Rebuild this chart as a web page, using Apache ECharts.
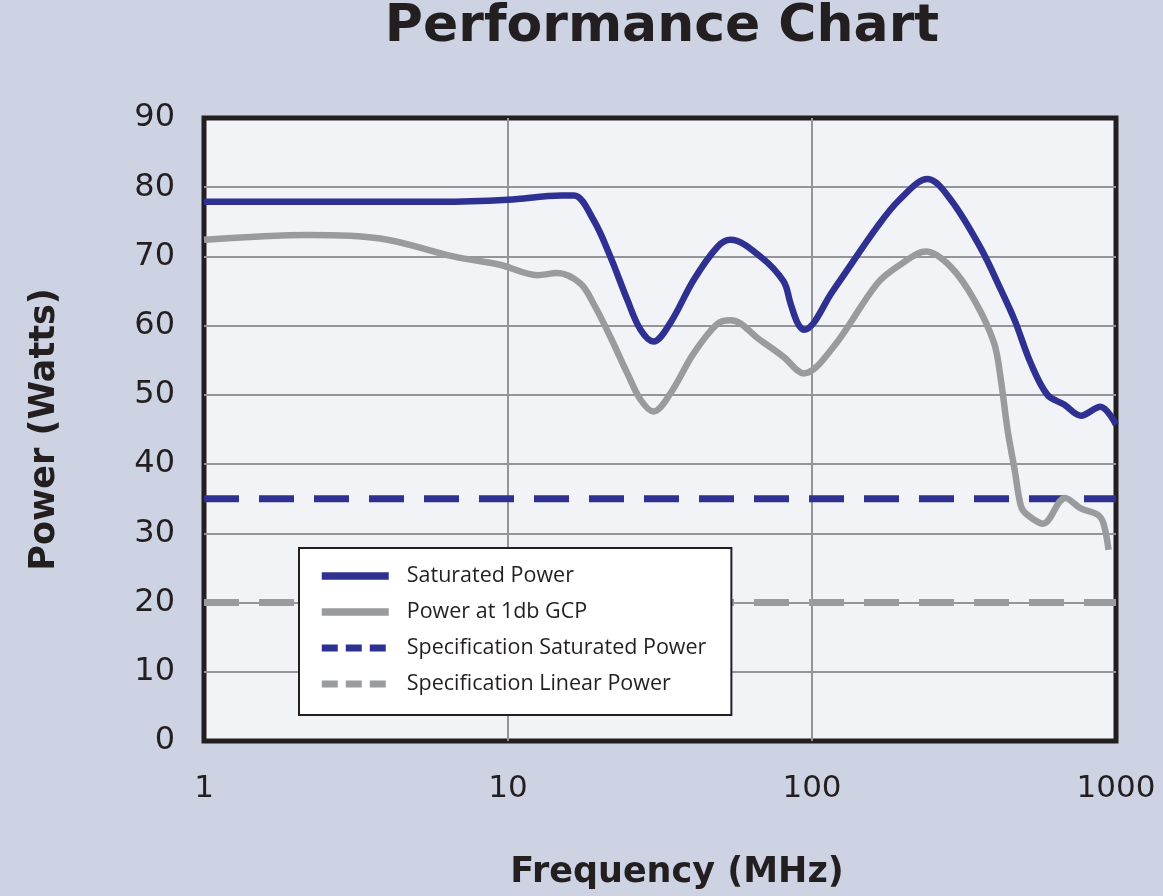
<!DOCTYPE html>
<html>
<head>
<meta charset="utf-8">
<script src="https://cdn.jsdelivr.net/npm/echarts@6/dist/echarts.min.js"></script>
<style>
html,body{margin:0;padding:0;background:#cdd3e3;}
#chart{width:1163px;height:896px;}
</style>
</head>
<body>
<div id="chart"></div>
<script>
const xTicks = [1, 10, 100, 1000];
const satFreq  = [1, 2, 4, 6, 10, 15, 16.5, 19.1, 21.7, 24.7, 27.3, 30.1, 34.2, 40.8, 48.9, 54, 67.6, 80.6, 85, 89.6, 94, 117, 164, 195, 240, 286, 359, 418, 464, 524, 595, 675, 766, 888, 1000];
const satPower = [77.9, 77.9, 77.9, 77.9, 78.2, 78.8, 78.8, 75.3, 70.0, 63.7, 59.4, 57.7, 60.4, 66.6, 71.4, 72.4, 70.0, 66.4, 63.2, 60.4, 59.4, 65.0, 74.3, 78.3, 81.2, 78.2, 71.2, 65.2, 60.8, 54.6, 50.0, 48.6, 47.0, 48.3, 45.7];
const gcpFreq  = [1, 2.2, 3.8, 6.6, 9.4, 12.5, 14.5, 17.3, 19.1, 21.7, 24.7, 27.3, 30.1, 34.2, 40.8, 48.9, 54, 67.6, 80.6, 94, 117, 164, 195, 237, 286, 342, 397, 418, 440, 464, 487, 510, 575, 680, 766, 870, 910, 945];
const gcpPower = [72.4, 73.1, 72.6, 70.0, 68.8, 67.3, 67.6, 66.1, 63.2, 58.4, 53.1, 49.3, 47.6, 50.2, 56.0, 60.3, 60.8, 57.9, 55.5, 53.1, 56.8, 66.1, 68.8, 70.7, 68.5, 63.7, 57.5, 52.2, 44.9, 39.2, 33.9, 32.7, 31.4, 35.1, 33.6, 32.7, 31.4, 27.6];
const specFreq = [1, 1000];
const specSat  = [35, 35];
const specLin  = [20, 20];
const names = ['Saturated Power', 'Power at 1db GCP', 'Specification Saturated Power', 'Specification Linear Power'];

const BLUE = '#2e3192', GRAY = '#9a9b9f', INK = '#231f20';
const zip = (xs, ys) => xs.map((x, i) => [x, ys[i]]);

const chart = echarts.init(document.getElementById('chart'), null, {renderer: 'canvas'});
chart.setOption({
  backgroundColor: '#cdd3e3',
  animation: false,
  title: {
    text: 'Performance Chart',
    left: 662, top: 1, padding: 0, textAlign: 'center',
    textStyle: {fontFamily: 'DejaVu Sans', fontWeight: 'bold', fontSize: 52, color: INK}
  },
  grid: {
    left: 204, right: 47, top: 118, bottom: 155,
    show: true, backgroundColor: '#f2f3f7', borderColor: INK, borderWidth: 5
  },
  xAxis: {
    type: 'log', logBase: 10, min: 1, max: 1000,
    name: 'Frequency (MHz)', nameLocation: 'middle', nameGap: 114,
    nameTextStyle: {fontFamily: 'DejaVu Sans', fontWeight: 'bold', fontSize: 35, color: INK, padding: [0, 0, 0, 34]},
    axisLine: {show: false}, axisTick: {show: false}, minorTick: {show: false},
    axisLabel: {fontFamily: 'DejaVu Sans', fontSize: 31, color: INK, margin: 32,
      formatter: v => xTicks.includes(Math.round(v)) ? String(Math.round(v)) : ''},
    splitLine: {show: true, showMinLine: false, showMaxLine: false, lineStyle: {color: '#939598', width: 2}}
  },
  yAxis: {
    type: 'value', min: 0, max: 90, interval: 10,
    name: 'Power (Watts)', nameLocation: 'middle', nameGap: 142,
    nameTextStyle: {fontFamily: 'DejaVu Sans', fontWeight: 'bold', fontSize: 35, color: INK},
    axisLine: {show: false}, axisTick: {show: false},
    axisLabel: {fontFamily: 'DejaVu Sans', fontSize: 32, color: INK, margin: 29},
    splitLine: {show: true, showMinLine: false, showMaxLine: false, lineStyle: {color: '#939598', width: 2}}
  },
  legend: {
    orient: 'vertical', left: 299, top: 548,
    padding: [16, 25, 19, 19], itemWidth: 67, itemHeight: 7, itemGap: 12,
    backgroundColor: '#ffffff', borderColor: INK, borderWidth: 2, borderRadius: 0,
    itemStyle: {opacity: 0},
    lineStyle: {width: 7},
    textStyle: {fontFamily: 'Open Sans', fontSize: 21.5, color: INK, lineHeight: 24, padding: [0, 0, 0, 13]},
    data: [
      {name: names[0], lineStyle: {width: 7.5}},
      {name: names[1], lineStyle: {width: 7.5}},
      {name: names[2], lineStyle: {width: 7, type: [16, 8]}},
      {name: names[3], lineStyle: {width: 7, type: [16, 8]}}
    ]
  },
  series: [
    {name: names[2], type: 'line', z: 1, symbol: 'none', data: zip(specFreq, specSat),
     lineStyle: {color: BLUE, width: 7, type: [35, 20]}, itemStyle: {color: BLUE}},
    {name: names[3], type: 'line', z: 1, symbol: 'none', data: zip(specFreq, specLin),
     lineStyle: {color: GRAY, width: 7, type: [35, 20]}, itemStyle: {color: GRAY}},
    {name: names[1], type: 'line', z: 3, symbol: 'none', smooth: 0.35, data: zip(gcpFreq, gcpPower),
     lineStyle: {color: GRAY, width: 6.5}, itemStyle: {color: GRAY}},
    {name: names[0], type: 'line', z: 3, symbol: 'none', smooth: 0.35, data: zip(satFreq, satPower),
     lineStyle: {color: BLUE, width: 6.5}, itemStyle: {color: BLUE}}
  ]
});
</script>
</body>
</html>
